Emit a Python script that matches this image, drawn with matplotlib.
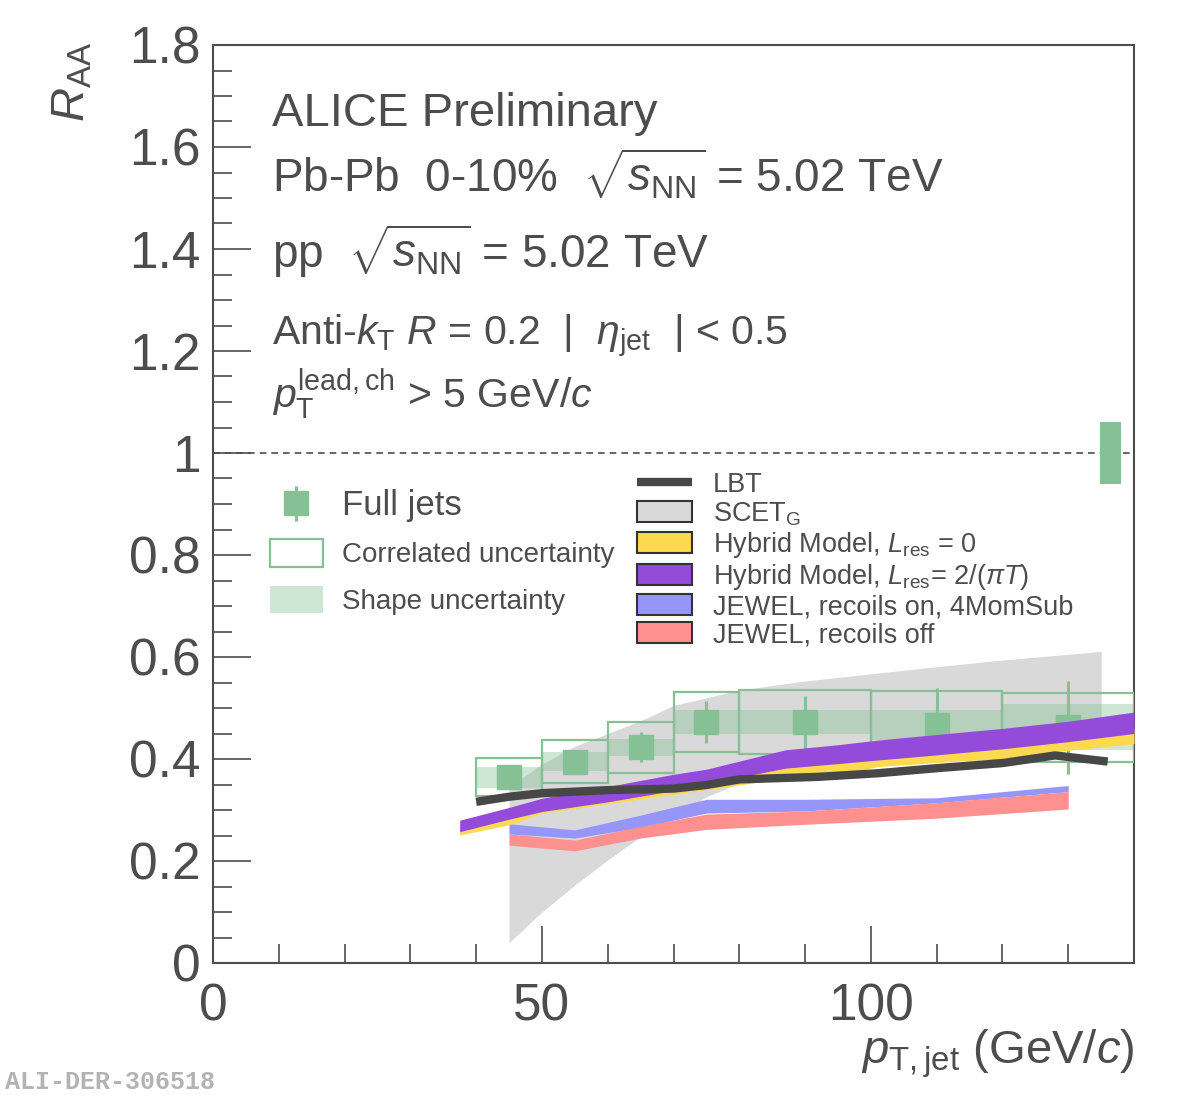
import numpy as np
import matplotlib
matplotlib.use("Agg")
import matplotlib.pyplot as plt
from matplotlib.patches import Patch
from matplotlib.lines import Line2D
from matplotlib.legend_handler import HandlerErrorbar

plt.rcParams['font.family'] = ['Liberation Sans', 'DejaVu Sans']
plt.rcParams['mathtext.fontset'] = 'custom'
plt.rcParams['mathtext.rm'] = 'Liberation Sans'
plt.rcParams['mathtext.it'] = 'Liberation Sans:italic'
plt.rcParams['mathtext.bf'] = 'Liberation Sans:bold'

# ALICE full jets R=0.2, 0-10%
bin_lo = [40, 50, 60, 70, 80, 100, 120]
bin_hi = [50, 60, 70, 80, 100, 120, 140]
pt_center = [45, 55, 65, 75, 90, 110, 130]
raa = [0.364, 0.395, 0.423, 0.472, 0.472, 0.467, 0.462]
stat_err = [0.012, 0.02, 0.029, 0.041, 0.052, 0.072, 0.091]
corr_err = [0.037, 0.043, 0.050, 0.059, 0.0625, 0.067, 0.068]
shape_err = [0.021, 0.019, 0.017, 0.0235, 0.0235, 0.030, 0.045]
glob_x = 136.4
glob_err = 0.06

# models
lbt_x = [40, 45, 50, 60, 70, 75, 80, 92, 101, 110, 120, 128, 136]
lbt_y = [0.316, 0.326, 0.333, 0.339, 0.342, 0.349, 0.36, 0.365, 0.372, 0.382, 0.392, 0.407, 0.395]

scet_x = [45, 50, 55, 60, 65, 70, 75, 80, 90, 100, 110, 120, 135]
scet_hi = [0.345, 0.39, 0.425, 0.45, 0.475, 0.505, 0.52, 0.535, 0.553, 0.567, 0.581, 0.594, 0.611]
scet_lo = [0.04, 0.10, 0.153, 0.202, 0.248, 0.285, 0.326, 0.352, 0.375, 0.39, 0.40, 0.415, 0.43]

hyb_x = [37.5, 45, 50, 60, 70, 75, 87, 95, 101, 110, 120, 130, 140]
hyb0_hi = [0.268, 0.29, 0.305, 0.325, 0.345, 0.358, 0.39, 0.40, 0.41, 0.42, 0.43, 0.445, 0.46]
hyb0_lo = [0.251, 0.271, 0.294, 0.312, 0.331, 0.340, 0.362, 0.368, 0.385, 0.393, 0.401, 0.417, 0.43]
hyb2_hi = [0.280, 0.305, 0.323, 0.346, 0.370, 0.380, 0.418, 0.428, 0.437, 0.448, 0.460, 0.474, 0.492]
hyb2_lo = [0.2575, 0.282, 0.297, 0.316, 0.338, 0.352, 0.382, 0.391, 0.398, 0.408, 0.420, 0.434, 0.450]

jewel_x = [45, 55, 65, 75, 90, 110, 130]
jon_hi = [0.273, 0.261, 0.290, 0.321, 0.321, 0.324, 0.348]
jon_lo = [0.253, 0.245, 0.266, 0.294, 0.298, 0.314, 0.336]
joff_hi = [0.253, 0.241, 0.268, 0.292, 0.298, 0.3145, 0.336]
joff_lo = [0.231, 0.220, 0.245, 0.262, 0.272, 0.284, 0.302]

TXT = '#4d4d4d'
GREEN = '#86c195'
GRAY = '#d9d9d9'
YELLOW = '#fdd94f'
PURPLE = '#944bd9'
BLUE = '#9696fa'
PINK = '#ff9090'
LBTC = '#474747'

W, H = 1182, 1095
fig = plt.figure(figsize=(W / 100, H / 100), dpi=100)
ax = fig.add_axes([213 / W, 1 - 963 / H, 921 / W, 918 / H])


def fp(px, py):
    return px / W, 1 - py / H


lo = np.array(bin_lo)
wid = np.array(bin_hi) - lo
y = np.array(raa)

ax.fill_between(scet_x, scet_lo, scet_hi, color=GRAY, lw=0, zorder=1)
ax.bar(lo, 2 * np.array(shape_err), bottom=y - shape_err, width=wid, align='edge',
       color=GREEN, alpha=0.4, lw=0, zorder=2)
ax.bar(lo, 2 * np.array(corr_err), bottom=y - corr_err, width=wid, align='edge',
       facecolor='none', edgecolor=GREEN, lw=1.6, zorder=3)
ax.bar(glob_x, 2 * glob_err, bottom=1 - glob_err, width=3.2, color=GREEN, lw=0, zorder=3)
h_full = ax.errorbar(pt_center, raa, yerr=stat_err, fmt='s', ms=17, color=GREEN,
                     elinewidth=2.2, capsize=0, zorder=4)

ax.fill_between(jewel_x, jon_lo, jon_hi, color=BLUE, lw=0, zorder=5)
ax.fill_between(jewel_x, joff_lo, joff_hi, color=PINK, lw=0, zorder=6)
ax.fill_between(hyb_x, hyb0_lo, hyb0_hi, color=YELLOW, lw=0, zorder=7)
ax.fill_between(hyb_x, hyb2_lo, hyb2_hi, color=PURPLE, lw=0, zorder=8)
ax.plot(lbt_x, lbt_y, color=LBTC, lw=6, solid_capstyle='butt', zorder=9)

ax.axhline(1, color=TXT, lw=1.2, ls=(0, (4, 3)), zorder=0.5)

ax.set_xlim(0, 140)
ax.set_ylim(0, 1.8)
ax.set_xticks([0, 50, 100])
ax.set_xticklabels(['0', '50', '100'])
ax.set_xticks(np.arange(0, 141, 10), minor=True)
ax.set_yticks(np.arange(0, 1.81, 0.2))
ax.set_yticklabels(['0', '0.2', '0.4', '0.6', '0.8', '1', '1.2', '1.4', '1.6', '1.8'])
ax.set_yticks(np.arange(0, 1.81, 0.05), minor=True)
ax.tick_params(which='both', direction='in', top=False, right=False,
               color=TXT, labelcolor=TXT, width=1.2)
ax.tick_params(which='major', length=27, labelsize=37)
ax.tick_params(axis='x', which='major', pad=14)
ax.tick_params(axis='y', which='major', pad=9)
ax.tick_params(which='minor', length=14)
for s in ax.spines.values():
    s.set_color(TXT)
    s.set_linewidth(1.5)

fig.text(*fp(72, 42), r'$R_{\mathrm{AA}}$', rotation=90, fontsize=34, color=TXT,
         ha='center', va='top')
fig.text(*fp(1134, 1063), r'$p_{\mathrm{T,jet}}$ (GeV/$c$)', fontsize=34, color=TXT,
         ha='right', va='baseline')

fig.text(*fp(272, 126), 'ALICE Preliminary', fontsize=34, color=TXT, va='baseline')
fig.text(*fp(272, 192), r'Pb-Pb  0-10%  $\sqrt{s_{\mathrm{NN}}}$ = 5.02 TeV',
         fontsize=33, color=TXT, va='baseline')
fig.text(*fp(272, 268), r'pp  $\sqrt{s_{\mathrm{NN}}}$ = 5.02 TeV',
         fontsize=33, color=TXT, va='baseline')
fig.text(*fp(272, 345), r'Anti-$k_{\mathrm{T}}$ $R$ = 0.2  |  $\eta_{\mathrm{jet}}$  | < 0.5',
         fontsize=29.5, color=TXT, va='baseline')
fig.text(*fp(272, 408), r'$p_{\mathrm{T}}^{\mathrm{lead,ch}}$ > 5 GeV/$c$',
         fontsize=29.5, color=TXT, va='baseline')

leg1 = ax.legend([h_full, Patch(facecolor='none', edgecolor=GREEN, lw=1.6),
                  Patch(facecolor=GREEN, alpha=0.4, edgecolor='none')],
                 ['Full jets', 'Correlated uncertainty', 'Shape uncertainty'],
                 handler_map={type(h_full): HandlerErrorbar(yerr_size=0.62)},
                 loc='upper left', bbox_to_anchor=fp(270, 489), bbox_transform=fig.transFigure,
                 frameon=False, fontsize=20, handlelength=1.9, handleheight=1.15,
                 handletextpad=0.7, labelspacing=0.62, borderpad=0, borderaxespad=0,
                 labelcolor=TXT)
leg1.get_texts()[0].set_fontsize(25)

ec = '#333333'
handles2 = [Line2D([], [], color=LBTC, lw=6, solid_capstyle='butt'),
            Patch(facecolor=GRAY, edgecolor=ec, lw=1.5),
            Patch(facecolor=YELLOW, edgecolor=ec, lw=1.5),
            Patch(facecolor=PURPLE, edgecolor=ec, lw=1.5),
            Patch(facecolor=BLUE, edgecolor=ec, lw=1.5),
            Patch(facecolor=PINK, edgecolor=ec, lw=1.5)]
labels2 = ['LBT', r'SCET$_{\mathrm{G}}$', r'Hybrid Model, $L_{\mathrm{res}}$ = 0',
           r'Hybrid Model, $L_{\mathrm{res}}$= 2/($\pi T$)',
           'JEWEL, recoils on, 4MomSub', 'JEWEL, recoils off']
leg2 = ax.legend(handles2, labels2, loc='upper left', bbox_to_anchor=fp(637, 472),
                 bbox_transform=fig.transFigure, frameon=False, fontsize=19.5,
                 handlelength=2.03, handleheight=0.82, handletextpad=0.78,
                 labelspacing=0.08, borderpad=0, borderaxespad=0, labelcolor=TXT)
ax.add_artist(leg1)

fig.text(*fp(5, 1082), 'ALI-DER-306518', family='Liberation Mono', weight='bold',
         color='#b3b3b3', fontsize=18, va='center')

fig.savefig('out.png', dpi=100)
